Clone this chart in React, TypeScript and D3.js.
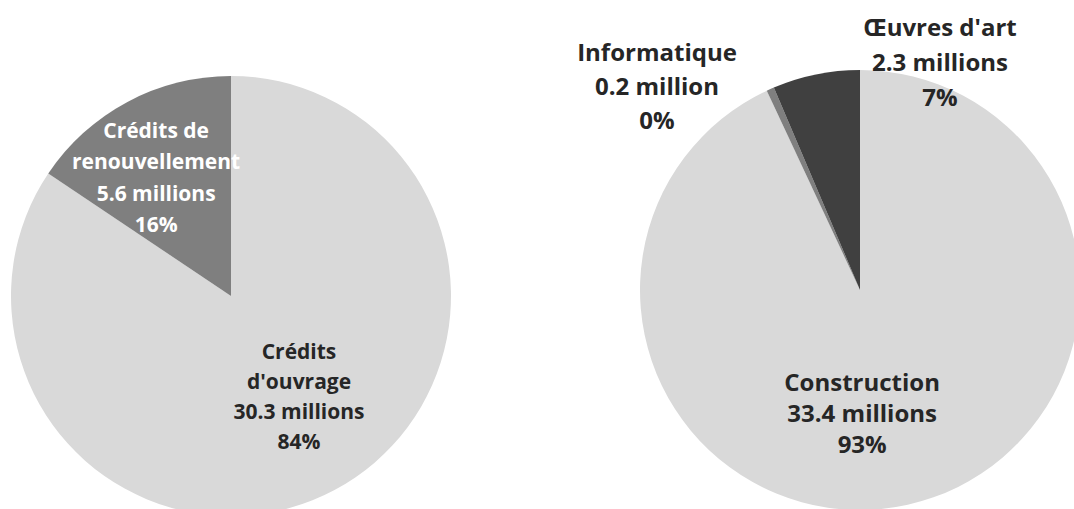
import React from "react";
import * as d3 from "d3";

const leftCategories = ["Crédits d'ouvrage", "Crédits de renouvellement"];
const leftValues = [30.3, 5.6];
const leftLabels = [
  ["Crédits", "d'ouvrage", "30.3 millions", "84%"],
  ["Crédits de", "renouvellement", "5.6 millions", "16%"],
];

const rightCategories = ["Construction", "Informatique", "Œuvres d'art"];
const rightValues = [33.4, 0.2, 2.3];
const rightLabels = [
  ["Construction", "33.4 millions", "93%"],
  ["Informatique", "0.2 million", "0%"],
  ["Œuvres d'art", "2.3 millions", "7%"],
];

// layout: label placement as polar (angle in degrees from 12 o'clock, radius fraction)
const leftColors = ["#d9d9d9", "#7f7f7f"];
const leftTextColors = ["#262626", "#ffffff"];
const leftLabelPolar = [
  [146, 0.553],
  [-32.3, 0.637],
];
const rightColors = ["#d9d9d9", "#7f7f7f", "#404040"];
const rightTextColors = ["#262626", "#262626", "#262626"];
const rightLabelPolar = [
  [179, 0.56],
  [-45, 1.305],
  [19.4, 1.095],
];

type PieProps = {
  cx: number;
  cy: number;
  r: number;
  values: number[];
  categories: string[];
  labels: string[][];
  colors: string[];
  textColors: string[];
  polar: number[][];
  lineH: number[];
  fontSize: number;
};

function Pie({ cx, cy, r, values, categories, labels, colors, textColors, polar, lineH, fontSize }: PieProps) {
  const pie = d3.pie<number>().sort(null).value((d) => d)(values);
  const arc = d3.arc<d3.PieArcDatum<number>>().innerRadius(0).outerRadius(r);
  return (
    <g transform={`translate(${cx},${cy})`}>
      {pie.map((p, i) => (
        <path key={categories[i]} d={arc(p) || ""} fill={colors[i]} />
      ))}
      {pie.map((p, i) => {
        const a = (polar[i][0] * Math.PI) / 180;
        const rr = polar[i][1] * r;
        const x = rr * Math.sin(a);
        const y = -rr * Math.cos(a);
        const lines = labels[i];
        const lh = lineH[i];
        const y0 = y - ((lines.length - 1) * lh) / 2;
        return (
          <text
            key={"t" + i}
            x={x}
            textAnchor="middle"
            fill={textColors[i]}
            fontFamily="'Open Sans', sans-serif"
            fontWeight={700}
            fontSize={fontSize}
          >
            {lines.map((l, j) => (
              <tspan key={j} x={x} y={y0 + j * lh} dy="0.35em">
                {l}
              </tspan>
            ))}
          </text>
        );
      })}
    </g>
  );
}

export default function App() {
  return (
    <svg
      width={1074}
      height={509}
      style={{ position: "absolute", left: 0, top: 0, background: "#ffffff" }}
    >
      <Pie
        cx={231}
        cy={296}
        r={220}
        values={leftValues}
        categories={leftCategories}
        labels={leftLabels}
        colors={leftColors}
        textColors={leftTextColors}
        polar={leftLabelPolar}
        lineH={[30, 31.5]}
        fontSize={21}
      />
      <Pie
        cx={860}
        cy={290}
        r={220}
        values={rightValues}
        categories={rightCategories}
        labels={rightLabels}
        colors={rightColors}
        textColors={rightTextColors}
        polar={rightLabelPolar}
        lineH={[31, 34, 35]}
        fontSize={24}
      />
    </svg>
  );
}
